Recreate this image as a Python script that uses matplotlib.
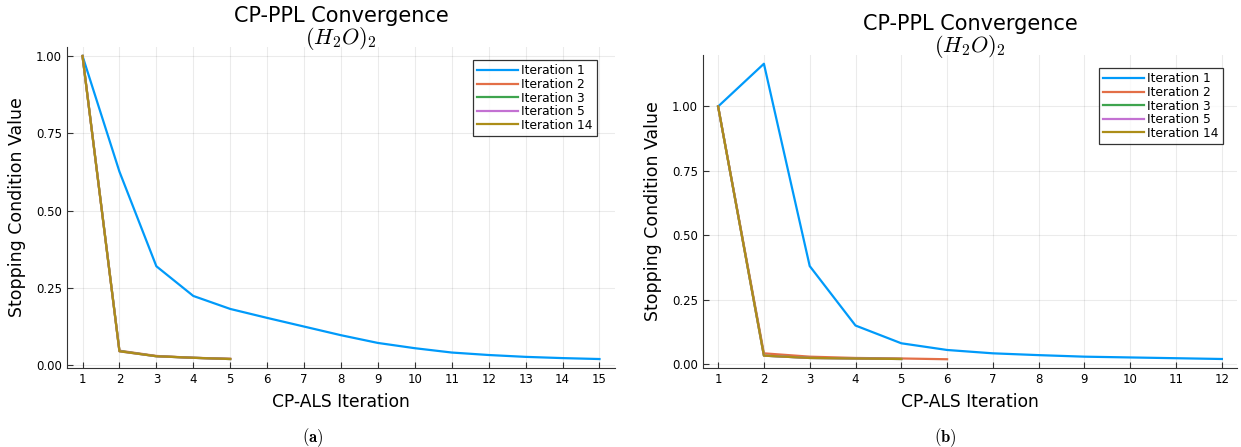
import matplotlib
matplotlib.use("Agg")
import matplotlib.pyplot as plt

plt.rcParams['font.family'] = ['DejaVu Sans']
plt.rcParams['mathtext.fontset'] = 'cm'

# series colours (Plots.jl default palette)
colors = ['#009AFA', '#E36F47', '#3EA44E', '#C371D2', '#AC8D18']
labels = ['Iteration 1', 'Iteration 2', 'Iteration 3', 'Iteration 5', 'Iteration 14']

# (a) stopping condition per CP-ALS iteration
a_it1 = [1.0, 0.626, 0.320, 0.224, 0.182, 0.153, 0.125, 0.097, 0.072, 0.055, 0.041, 0.033, 0.027, 0.023, 0.020]
a_it2 = [1.0, 0.047, 0.030, 0.024, 0.021]
a_it3 = [1.0, 0.046, 0.029, 0.024, 0.020]
a_it5 = [1.0, 0.045, 0.029, 0.024, 0.020]
a_it14 = [1.0, 0.045, 0.029, 0.024, 0.020]

# (b)
b_it1 = [1.0, 1.166, 0.380, 0.149, 0.080, 0.054, 0.041, 0.034, 0.028, 0.025, 0.022, 0.019]
b_it2 = [1.0, 0.041, 0.028, 0.023, 0.021, 0.018]
b_it3 = [1.0, 0.032, 0.023, 0.021, 0.019]
b_it5 = [1.0, 0.032, 0.023, 0.021, 0.019]
b_it14 = [1.0, 0.032, 0.023, 0.021, 0.019]

yticks = [0.0, 0.25, 0.5, 0.75, 1.0]
ytick_labels = ['0.00', '0.25', '0.50', '0.75', '1.00']

W, H = 1241, 447
fig = plt.figure(figsize=(W / 100, H / 100), dpi=100)


def panel(rect, series, xmax, ylim, legend_rect, caption, cap_x):
    l, t, r, b = rect
    ax = fig.add_axes([l / W, 1 - b / H, (r - l) / W, (b - t) / H])
    for ys, c, lab in zip(series, colors, labels):
        ax.plot(range(1, len(ys) + 1), ys, color=c, lw=1.6, label=lab)
    pad = (xmax - 1) * 0.03
    ax.set_xlim(1 - pad, xmax + pad)
    ax.set_ylim(*ylim)
    ax.set_xticks(range(1, xmax + 1))
    ax.set_yticks(yticks)
    ax.set_yticklabels(ytick_labels)
    ax.grid(True, color='black', alpha=0.08, lw=0.8)
    for s in ['top', 'right']:
        ax.spines[s].set_visible(False)
    for s in ['left', 'bottom']:
        ax.spines[s].set_color('#333333')
    ax.tick_params(direction='in', length=4, labelsize=8.5, color='#333333')
    ax.set_xlabel('CP-ALS Iteration', fontsize=12.3, labelpad=5)
    ax.set_ylabel('Stopping Condition Value', fontsize=12.5, labelpad=7)

    # two-line title: plain text, then the formula underneath
    cx = (l + r) / 2 / W
    fig.text(cx, 1 - (t - 25) / H, 'CP-PPL Convergence', ha='center',
             va='baseline', fontsize=15)
    fig.text(cx, 1 - (t - 9) / H, r'$(H_2O)_2$', ha='center', va='center',
             fontsize=16)

    lx, ly = legend_rect
    leg = ax.legend(loc='upper left', bbox_to_anchor=((lx - l) / (r - l), 1 - (ly - t) / (b - t)),
                    fontsize=8.8, frameon=True, fancybox=False, borderpad=0.35,
                    labelspacing=0.05, handlelength=3.3, handletextpad=0.3,
                    borderaxespad=0)
    leg.get_frame().set_edgecolor('black')
    leg.get_frame().set_linewidth(0.9)
    fig.text(cap_x / W, 1 - 438 / H, caption, ha='center', va='center', fontsize=12)
    return ax


panel((67, 47, 615, 368), [a_it1, a_it2, a_it3, a_it5, a_it14], 15,
      (-0.009, 1.029), (473, 60), r'$\mathbf{(a)}$', 313)
panel((703, 55, 1237, 368), [b_it1, b_it2, b_it3, b_it5, b_it14], 12,
      (-0.016, 1.20), (1099, 68), r'$\mathbf{(b)}$', 945)

fig.savefig('out.png', dpi=100)
